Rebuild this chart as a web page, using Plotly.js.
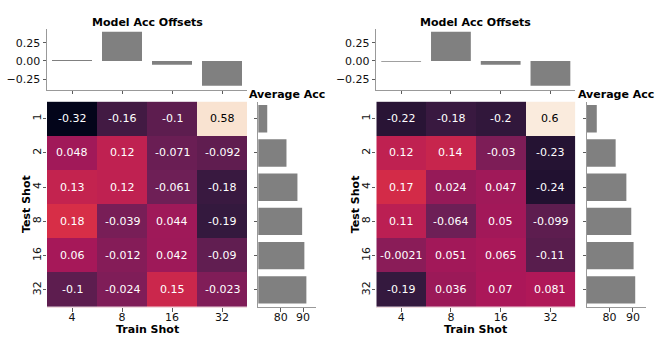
<!DOCTYPE html>
<html>
<head>
<meta charset="utf-8">
<script src="https://cdn.plot.ly/plotly-3.0.1.min.js"></script>
<style>
  html, body { margin: 0; padding: 0; background: #fff; }
  #chart { width: 664px; height: 352px; }
</style>
</head>
<body>
<div id="chart"></div>
<script>
const trainShots = ['4', '8', '16', '32'];
const testShots = ['1', '2', '4', '8', '16', '32'];

// left panel
const leftGrid = [
  [-0.32, -0.16, -0.1, 0.58],
  [0.048, 0.12, -0.071, -0.092],
  [0.13, 0.12, -0.061, -0.18],
  [0.18, -0.039, 0.044, -0.19],
  [0.06, -0.012, 0.042, -0.09],
  [-0.1, -0.024, 0.15, -0.023],
];
const leftOffsets = [0.012, 0.40, -0.05, -0.34];
const leftAvgAcc = [74.0, 82.6, 87.5, 89.6, 90.6, 91.5];

// right panel
const rightGrid = [
  [-0.22, -0.18, -0.2, 0.6],
  [0.12, 0.14, -0.03, -0.23],
  [0.17, 0.024, 0.047, -0.24],
  [0.11, -0.064, 0.05, -0.099],
  [-0.0021, 0.051, 0.065, -0.11],
  [-0.19, 0.036, 0.07, 0.081],
];
const rightOffsets = [-0.012, 0.40, -0.05, -0.34];
const rightAvgAcc = [74.5, 82.6, 87.2, 89.3, 90.3, 91.0];

// seaborn "rocket"
const rocket = [
  [0, '#03051a'], [1 / 7, '#35193e'], [2 / 7, '#701f57'], [3 / 7, '#ad1759'],
  [4 / 7, '#e13342'], [5 / 7, '#f37651'], [6 / 7, '#f6b48f'], [1, '#faebdd'],
];

// both heatmaps share one colour range
const allCells = leftGrid.flat().concat(rightGrid.flat());
const zmin = Math.min(...allCells);
const zmax = Math.max(...allCells);

const W = 664;
const H = 352;
const FONT = 'DejaVu Sans';
const px = (a, b) => [a / W, b / W];
const py = (top, bottom) => [1 - bottom / H, 1 - top / H];

const data = [];
const layout = {
  width: W,
  height: H,
  margin: { l: 0, r: 0, t: 0, b: 0 },
  paper_bgcolor: '#fff',
  plot_bgcolor: 'rgba(0,0,0,0)',
  font: { family: FONT, size: 11, color: '#111' },
  showlegend: false,
  annotations: [],
};

const tickStyle = { ticks: 'outside', ticklen: 3.5, tickwidth: 0.8, tickcolor: '#333' };
const spine = { showline: true, linecolor: '#999', linewidth: 1 };

function panel(grid, offsets, avgAcc, n, heatX, sideX, accRange) {
  const hx = 'x' + (n === 1 ? '' : n);
  const hy = 'y' + (n === 1 ? '' : n);
  const tx = 'x' + (n + 1), ty = 'y' + (n + 1);
  const sx = 'x' + (n + 2), sy = 'y' + (n + 2);
  const heatDom = py(101.6, 307);

  data.push({
    type: 'heatmap', z: grid, x: trainShots, y: testShots,
    xaxis: hx, yaxis: hy, colorscale: rocket, zmin: zmin, zmax: zmax,
    showscale: false, hoverinfo: 'skip',
  });

  // cell labels, placed by category index
  grid.forEach((row, i) => {
    row.forEach((v, j) => {
      const norm = (v - zmin) / (zmax - zmin);
      layout.annotations.push({
        xref: hx, yref: hy, x: j, y: i,
        text: String(Number(v.toPrecision(2))), showarrow: false,
        font: { family: FONT, size: 11, color: norm > 0.8 ? '#000' : '#fff' },
      });
    });
  });

  data.push({
    type: 'bar', x: trainShots, y: offsets, xaxis: tx, yaxis: ty,
    width: 0.8, marker: { color: '#808080', line: { width: 0 } }, hoverinfo: 'skip',
  });

  data.push({
    type: 'bar', orientation: 'h', x: avgAcc, y: testShots, xaxis: sx, yaxis: sy,
    width: 0.8, marker: { color: '#808080', line: { width: 0 } }, hoverinfo: 'skip',
  });

  const key = (a) => a.replace('x', 'xaxis').replace('y', 'yaxis');

  layout[key(hx)] = {
    domain: px(heatX[0], heatX[1]), anchor: hy, type: 'category',
    range: [-0.5, 3.5], showgrid: false, zeroline: false, ticklabelstandoff: -4,
    showline: true, linecolor: '#f2dce0', linewidth: 1, ...tickStyle,
  };
  layout[key(hy)] = {
    domain: heatDom, anchor: hx, type: 'category',
    range: [5.5, -0.5], showgrid: false, zeroline: false, tickangle: -90,
    ticklabelstandoff: -3, ...tickStyle,
  };

  layout[key(tx)] = {
    domain: px(heatX[0], heatX[1]), anchor: ty, type: 'category',
    range: [-0.5, 3.5], showgrid: false, zeroline: false, showticklabels: false,
    ...spine, ...tickStyle,
  };
  layout[key(ty)] = {
    domain: py(28.8, 89.5), anchor: tx, range: [-0.39, 0.44],
    tickvals: [-0.25, 0, 0.25], tickformat: '.2f',
    showgrid: false, zeroline: false, ...spine, ...tickStyle,
  };

  layout[key(sx)] = {
    domain: px(sideX[0], sideX[1]), anchor: sy, range: accRange,
    tickvals: [80, 90], showgrid: false, zeroline: false, ticklabelstandoff: -4,
    ...spine, ...tickStyle,
  };
  layout[key(sy)] = {
    domain: heatDom, anchor: sx, type: 'category', range: [5.5, -0.5],
    showticklabels: false, showgrid: false, zeroline: false, ...spine, ...tickStyle,
  };

  const hc = (heatX[0] + heatX[1]) / 2 / W;
  const sc = (sideX[0] + sideX[1]) / 2 / W;
  const bold = { family: FONT, size: 11, color: '#000', weight: 'bold' };
  layout.annotations.push(
    { xref: 'paper', yref: 'paper', x: hc, y: 1 - 22 / H, text: '<b>Model Acc Offsets</b>',
      showarrow: false, font: bold, xanchor: 'center', yanchor: 'middle' },
    { xref: 'paper', yref: 'paper', x: sc, y: 1 - 94 / H, text: '<b>Average Acc</b>',
      showarrow: false, font: bold, xanchor: 'center', yanchor: 'middle' },
    { xref: 'paper', yref: 'paper', x: hc, y: 1 - 329 / H, text: '<b>Train Shot</b>',
      showarrow: false, font: bold, xanchor: 'center', yanchor: 'middle' },
    { xref: 'paper', yref: 'paper', x: (heatX[0] - 21) / W, y: 1 - 204 / H, text: '<b>Test Shot</b>',
      textangle: -90, showarrow: false, font: bold, xanchor: 'center', yanchor: 'middle' },
  );
}

panel(leftGrid, leftOffsets, leftAvgAcc, 1, [47, 247], [258.3, 316], [70, 95.8]);
panel(rightGrid, rightOffsets, rightAvgAcc, 4, [376.3, 575.3], [587, 645.7], [70.3, 95.5]);

Plotly.newPlot('chart', data, layout, { displayModeBar: false, staticPlot: true });
</script>
</body>
</html>
